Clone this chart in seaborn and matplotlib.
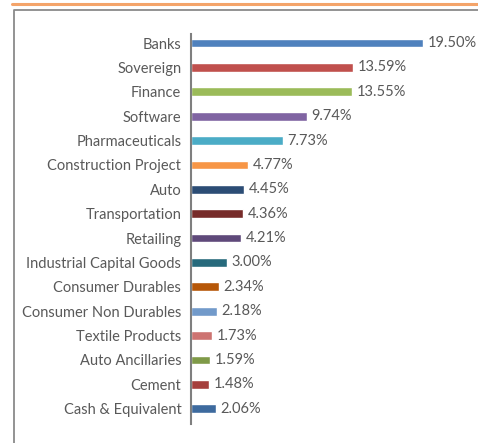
import matplotlib
matplotlib.use("Agg")
import matplotlib.pyplot as plt
import seaborn as sns
import pandas as pd
from matplotlib.lines import Line2D

sectors = ["Banks", "Sovereign", "Finance", "Software", "Pharmaceuticals",
           "Construction Project", "Auto", "Transportation", "Retailing",
           "Industrial Capital Goods", "Consumer Durables", "Consumer Non Durables",
           "Textile Products", "Auto Ancillaries", "Cement", "Cash & Equivalent"]
weights = [19.50, 13.59, 13.55, 9.74, 7.73, 4.77, 4.45, 4.36, 4.21,
           3.00, 2.34, 2.18, 1.73, 1.59, 1.48, 2.06]
bar_colors = ["#4F81BD", "#C0504D", "#9BBB59", "#8064A2", "#4BACC6", "#F79646",
              "#2C4D75", "#772C2A", "#5F497A", "#276A7C", "#B65708", "#729ACA",
              "#CD7371", "#7F9A48", "#A5403D", "#3D6A9E"]

df = pd.DataFrame({"sector": sectors, "weight": weights})

sns.set_style("white")
plt.rcParams["font.family"] = ["Lato", "DejaVu Sans"]
txt = "#595959"

fig = plt.figure(figsize=(4.78, 4.43), dpi=100)
ax = fig.add_axes([191 / 478, 19 / 443, 270 / 478, 390 / 443])

sns.barplot(data=df, x="weight", y="sector", hue="sector", palette=bar_colors,
            orient="h", width=0.36, legend=False, ax=ax, saturation=1)

for p, w in zip(ax.patches, weights):
    ax.text(p.get_width() + 0.4, p.get_y() + p.get_height() / 2, f"{w:.2f}%",
            va="center", ha="left", fontsize=10.5, color=txt)

ax.set_xlim(0, 270 / 11.9)
ax.set_ylim(15.63, -0.37)
ax.set_xlabel("")
ax.set_ylabel("")
ax.set_xticks([])
ax.tick_params(axis="y", length=0, pad=7, labelsize=10.5, labelcolor=txt)
for s in ["top", "right", "bottom"]:
    ax.spines[s].set_visible(False)
ax.spines["left"].set_color("#7f7f7f")
ax.spines["left"].set_linewidth(1.5)

# outer frame and orange rule at top
fig.add_artist(Line2D([12 / 478, 1], [1 - 3.5 / 443] * 2, color="#F4A46A", lw=2.2,
                      transform=fig.transFigure))
fig.add_artist(Line2D([13.5 / 478, 13.5 / 478, 1], [0, 1 - 9.5 / 443, 1 - 9.5 / 443],
                      color="#8a8a8a", lw=1.3, transform=fig.transFigure))

fig.savefig("out.png", dpi=100)
